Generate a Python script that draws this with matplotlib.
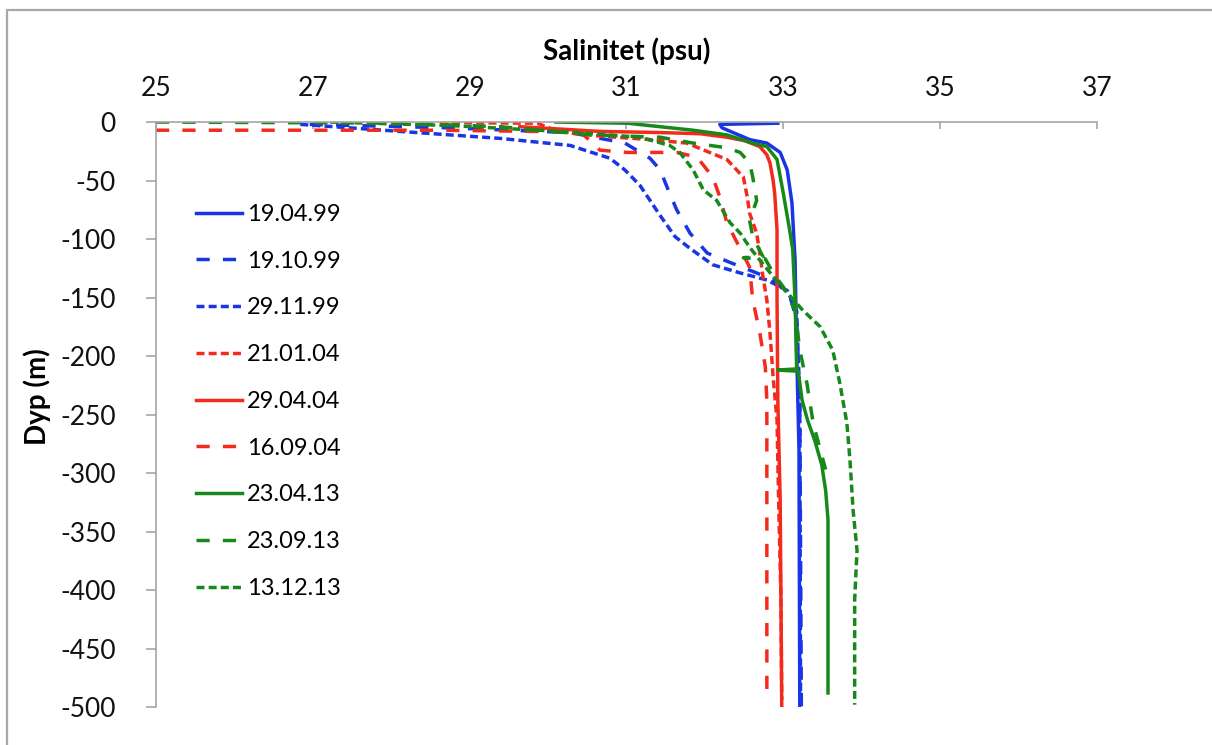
import matplotlib
matplotlib.use("Agg")
import matplotlib.pyplot as plt
from matplotlib.patches import Rectangle

plt.rcParams['font.family'] = ['Lato', 'DejaVu Sans']
plt.rcParams['axes.unicode_minus'] = False

# Salinity (psu) and depth (m)
sal_190499 = [32.93, 32.19, 32.22, 32.57, 32.79, 32.96, 33.05, 33.11, 33.15, 33.17, 33.20, 33.21]
dep_190499 = [-1, -2, -5, -15, -18, -26, -41, -69, -118, -195, -280, -500]

sal_191099 = [26.96, 28.75, 30.28, 30.98, 31.30, 31.43, 31.52, 31.64, 31.81, 32.03, 32.32, 32.66,
              32.87, 33.08, 33.17, 33.21, 33.23]
dep_191099 = [-2, -5, -9, -18, -31, -41, -56, -75, -95, -112, -120, -129,
              -135, -148, -169, -238, -500]

sal_291199 = [26.84, 28.11, 29.39, 30.28, 30.79, 30.98, 31.17, 31.30, 31.43, 31.62, 31.81, 32.10,
              32.45, 32.79, 33.05, 33.17, 33.21, 33.22]
dep_291199 = [-2, -8, -14, -20, -31, -41, -54, -67, -80, -98, -108, -122,
              -129, -135, -144, -161, -238, -500]

sal_210104 = [28.62, 29.86, 30.15, 30.66, 31.30, 31.77, 32.06, 32.28, 32.49, 32.54, 32.57, 32.66,
              32.70, 32.74, 32.79, 32.83, 32.87, 32.92, 32.94, 32.97, 32.98]
dep_210104 = [-0.5, -1, -8.5, -12, -15, -18, -26, -32, -47, -64, -78, -95,
              -112, -132, -152, -180, -218, -255, -323, -408, -494]

sal_290404 = [29.64, 30.66, 31.43, 31.94, 32.28, 32.51, 32.70, 32.79, 32.83, 32.87, 32.89, 32.92,
              32.92, 32.93, 32.96, 32.97, 32.98]
dep_290404 = [-4, -8, -9, -10, -13, -16, -21, -28, -35, -50, -61, -92,
              -152, -238, -323, -408, -500]

sal_160904 = [25.0, 28.62, 30.41, 30.57, 30.66, 31.01, 31.64, 31.90, 32.10, 32.19, 32.28, 32.41,
              32.57, 32.61, 32.70, 32.77, 32.79, 32.79, 32.79]
dep_160904 = [-7, -7, -8.5, -18, -24, -26, -26, -30, -47, -64, -86, -103,
              -124, -152, -180, -209, -238, -323, -490]

sal_230413 = [30.10, 31.01, 31.85, 32.28, 32.61, 32.79, 32.92, 33.00, 33.08, 33.12, 33.15, 33.17,
              32.93, 33.19, 33.24, 33.31, 33.40, 33.49, 33.54, 33.57, 33.57, 33.57]
dep_230413 = [0, -1, -7, -11, -18, -21, -32, -61, -92, -109, -152, -211,
              -212, -213, -238, -255, -272, -293, -315, -340, -408, -488]

sal_230913 = [25.0, 28.11, 29.39, 30.57, 31.43, 31.85, 32.28, 32.45, 32.57, 32.61, 32.66, 32.57,
              32.61, 32.74, 32.49, 32.77, 32.87, 33.00, 33.15, 33.21, 33.30, 33.38, 33.47, 33.54]
dep_230913 = [0, -1, -4, -11, -13, -18, -22, -26, -35, -47, -67, -84,
              -98, -115, -116, -117, -129, -141, -161, -195, -223, -257, -280, -297]

sal_131213 = [27.22, 28.75, 30.15, 31.17, 31.55, 31.68, 31.85, 31.98, 32.15, 32.32, 32.45, 32.57,
              32.70, 32.87, 33.05, 33.25, 33.47, 33.63, 33.72, 33.81, 33.85, 33.89, 33.94, 33.91, 33.91]
dep_131213 = [0, -3, -8, -13, -20, -26, -41, -58, -67, -86, -95, -107,
              -118, -132, -146, -161, -175, -195, -223, -257, -289, -332, -366, -408, -498]

x_ticks = [25, 27, 29, 31, 33, 35, 37]
y_ticks = [0, -50, -100, -150, -200, -250, -300, -350, -400, -450, -500]

blue = '#1a35e6'
red = '#f42a1c'
green = '#17891b'
long_dash = (3.8, 3.8)
short_dash = (2.3, 1.2)

fig = plt.figure(figsize=(12.12, 7.45), dpi=100)
ax = fig.add_axes([0.1287, 0.0510, 0.7764, 0.7852])

lw = 2.5
series = [
    (sal_190499, dep_190499, blue, None, '19.04.99'),
    (sal_191099, dep_191099, blue, long_dash, '19.10.99'),
    (sal_291199, dep_291199, blue, short_dash, '29.11.99'),
    (sal_210104, dep_210104, red, short_dash, '21.01.04'),
    (sal_290404, dep_290404, red, None, '29.04.04'),
    (sal_160904, dep_160904, red, long_dash, '16.09.04'),
    (sal_230413, dep_230413, green, None, '23.04.13'),
    (sal_230913, dep_230913, green, long_dash, '23.09.13'),
    (sal_131213, dep_131213, green, short_dash, '13.12.13'),
]
for sal, dep, col, dash, lab in series:
    line, = ax.plot(sal, dep, color=col, lw=lw, label=lab, solid_joinstyle='round')
    if dash is not None:
        line.set_dashes(dash)

ax.set_xlim(25, 37)
ax.set_ylim(-500, 0)
ax.set_xticks(x_ticks)
ax.set_yticks(y_ticks)

ax.xaxis.tick_top()
ax.xaxis.set_label_position('top')
ax.set_xlabel('Salinitet (psu)', fontsize=20, fontweight='bold', labelpad=12)
ax.set_ylabel('Dyp (m)', fontsize=20, fontweight='bold')
ax.yaxis.set_label_coords(-0.112, 0.53)

for side in ['right', 'bottom']:
    ax.spines[side].set_visible(False)
for side in ['top', 'left']:
    ax.spines[side].set_color('#a6a6a6')
    ax.spines[side].set_linewidth(1.2)

ax.tick_params(axis='x', direction='in', length=5, color='#a6a6a6', width=1.2,
               labelsize=19, pad=15, labelcolor='#111111')
ax.tick_params(axis='y', direction='out', length=7, color='#a6a6a6', width=1.2,
               labelsize=19, pad=22, labelcolor='#111111')

ax.legend(loc='upper left', bbox_to_anchor=(0.043, 0.860), frameon=False,
          fontsize=17, handlelength=1.95, handletextpad=0.2, labelspacing=1.09,
          borderpad=0, borderaxespad=0)

# light grey frame around the picture (top and left edges visible)
fig.add_artist(Rectangle((0.006, -0.02), 1.1, 1.007, transform=fig.transFigure,
                         fill=False, edgecolor='#a8a8a8', lw=1.6))

fig.savefig('out.png', dpi=100)
